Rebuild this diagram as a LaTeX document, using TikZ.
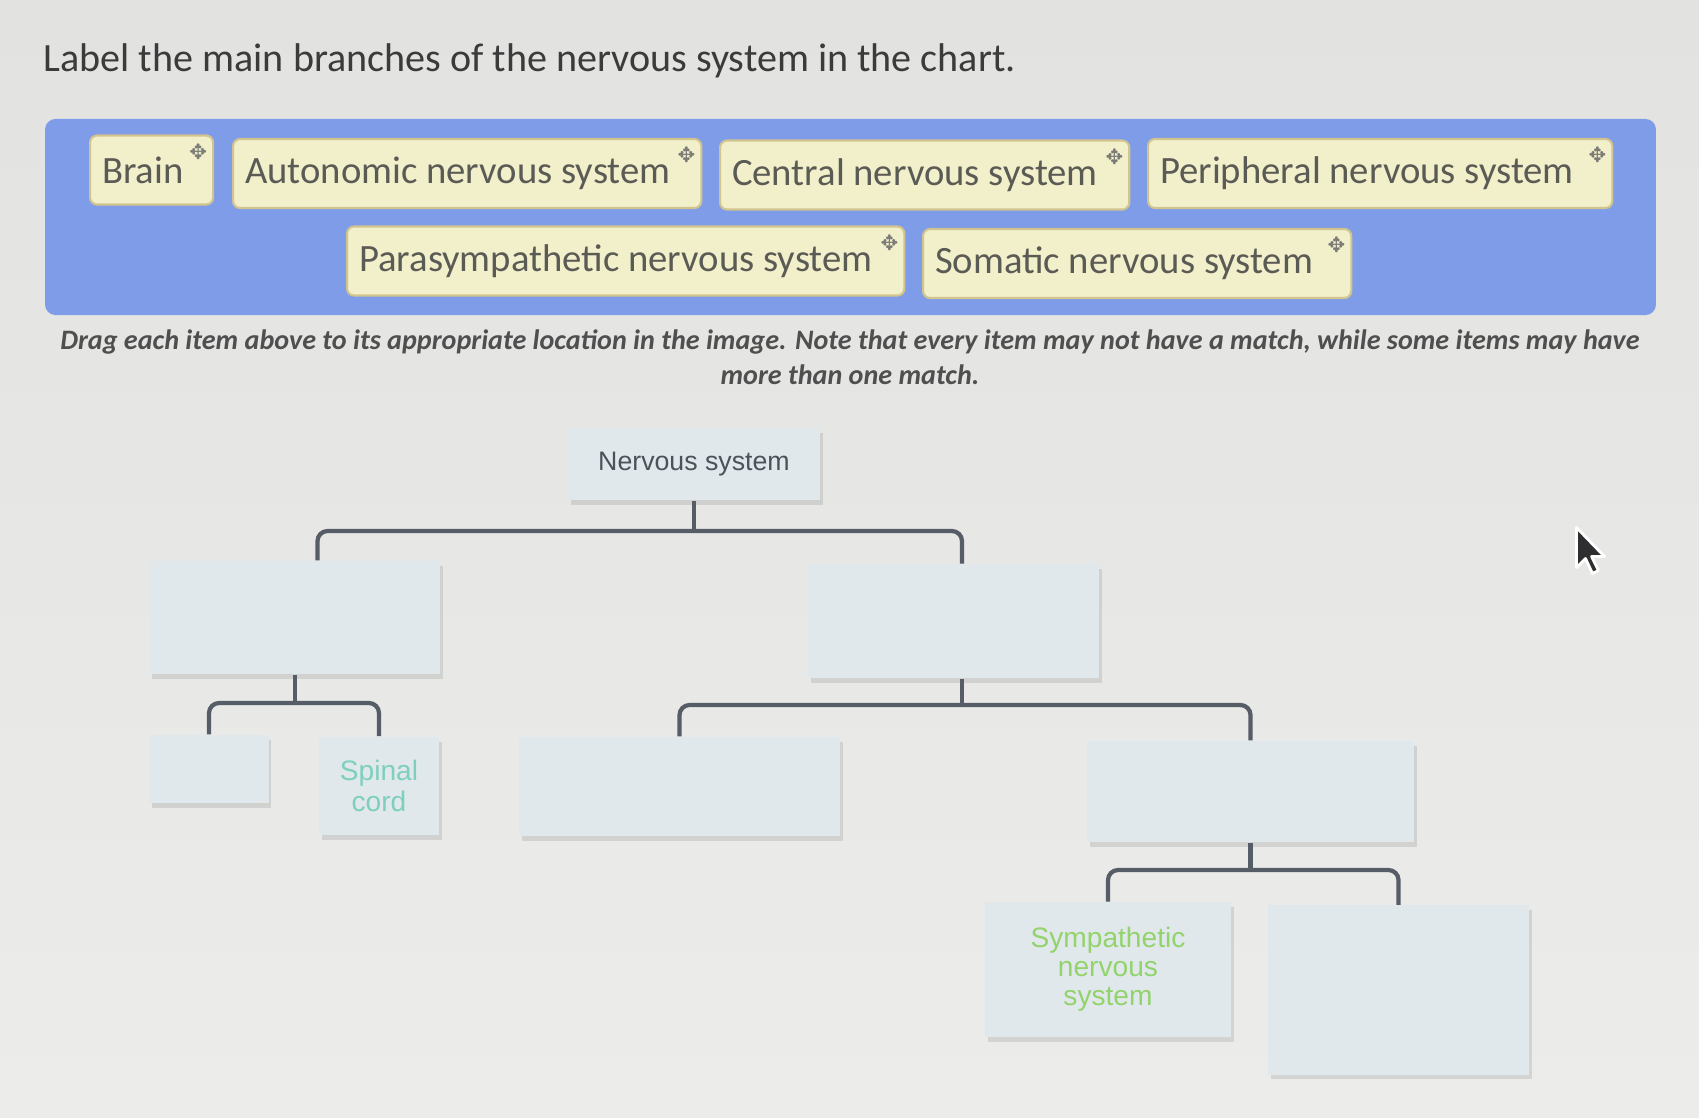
\documentclass[tikz,border=0pt]{standalone}
\usepackage{fontspec}
\setmainfont{Carlito}
\newfontfamily\chartfont{Liberation Sans}
\newfontfamily\iconfont{DejaVu Sans}
\usetikzlibrary{positioning,calc,shadows}

\definecolor{pagetop}{HTML}{E2E2E1}
\definecolor{pagebot}{HTML}{ECECEA}
\definecolor{panelblue}{HTML}{7E9CE8}
\definecolor{chipfill}{HTML}{F2EFCB}
\definecolor{chipline}{HTML}{D2C48F}
\definecolor{chiptext}{HTML}{5B5B55}
\definecolor{boxfill}{HTML}{E1E8EC}
\definecolor{linkgray}{HTML}{575D66}
\definecolor{titletext}{HTML}{3B3B3B}
\definecolor{hinttext}{HTML}{4F4F4F}
\definecolor{nstext}{HTML}{4A525A}
\definecolor{teallabel}{HTML}{7DCFBE}
\definecolor{greenlabel}{HTML}{92D36C}
\definecolor{cursorgray}{HTML}{2E2E30}

\begin{document}
\begin{tikzpicture}[
    x=0.01cm,
    y=-0.01cm,
    title/.style={anchor=base west, inner sep=0pt, font=\fontsize{11.4}{13}\selectfont, text=titletext},
    hint/.style={anchor=north, inner sep=0pt, align=center, font=\bfseries\itshape\fontsize{8}{10}\selectfont, text=hinttext},
    panel/.style={fill=panelblue, rounded corners=3pt, minimum width=16.10cm, minimum height=1.96cm, inner sep=0pt},
    chip/.style={draw=chipline, fill=chipfill, rounded corners=2pt, line width=0.6pt, anchor=west, align=flush left, text width=#1, inner xsep=0.12cm, minimum height=0.69cm, font=\fontsize{11}{13}\selectfont, text=chiptext},
    moveicon/.style={inner sep=0pt, font=\iconfont\fontsize{6}{6}\selectfont, text=chiptext!80},
    chartbox/.style={fill=boxfill, inner sep=0pt, align=center, drop shadow={shadow xshift=0.8pt, shadow yshift=-1.4pt, opacity=0.22}},
    link/.style={draw=linkgray, line width=1.2pt, rounded corners=0.1cm}
  ]
    % -- page --
    \shade[top color=pagetop, bottom color=pagebot] (0,0) rectangle (1699,1117);
    \useasboundingbox (0,0) rectangle (1699,1117);

    % -- question and word bank --
    \node[title] (title) at (43,71.5) {Label the main branches of the nervous system in the chart.};
    \node[panel] (bank) at (850.5,217) {};

    \node[chip=0.99cm] (cBrain) at (89,170)   {Brain};
    \node[chip=4.44cm] (cAuto)  at (232,173.5) {Autonomic nervous system};
    \node[chip=3.85cm] (cCns)   at (719,175)   {Central nervous system};
    \node[chip=4.40cm] (cPns)   at (1147,173.5) {Peripheral nervous system};
    \node[chip=5.33cm] (cPara)  at (346,261)   {Parasympathetic nervous system};
    \node[chip=4.04cm] (cSoma)  at (922,263.5) {Somatic nervous system};

    \foreach \c in {cBrain,cAuto,cCns,cPns,cPara,cSoma}
      \node[moveicon] at ($(\c.north east)+(-16,17)$) {✥};

    \node[hint] (hint) at (850,329) {Drag each item above to its appropriate location in the image. Note that every item may not have a match, while some items may have\\more than one match.};

    % -- chart boxes --
    \node[chartbox, minimum width=2.52cm, minimum height=0.72cm, font=\chartfont\fontsize{7.6}{9}\selectfont, text=nstext] (ns) at (694,464) {Nervous system};
    \node[chartbox, minimum width=2.905cm, minimum height=1.13cm]  (cns) at (294.75,617.5) {};
    \node[chartbox, minimum width=2.91cm, minimum height=1.135cm]  (pns) at (953.5,621) {};
    \node[chartbox, minimum width=1.19cm, minimum height=0.68cm]   (brain) at (209,769) {};
    \node[chartbox, minimum width=1.205cm, minimum height=0.985cm, font=\chartfont\fontsize{8}{8.9}\selectfont, text=teallabel] (spinal) at (379,786) {Spinal\\cord};
    \node[chartbox, minimum width=3.21cm, minimum height=0.99cm]   (somatic) at (679.5,786.5) {};
    \node[chartbox, minimum width=3.27cm, minimum height=1.01cm]   (auto) at (1250.5,791.5) {};
    \node[chartbox, minimum width=2.46cm, minimum height=1.345cm, font=\chartfont\fontsize{8}{8.3}\selectfont, text=greenlabel] (symp) at (1108,969.5) {Sympathetic\\nervous\\system};
    \node[chartbox, minimum width=2.61cm, minimum height=1.69cm]   (para) at (1398.5,990) {};

    % -- branch lines --
    \coordinate (j0l) at (317.5,531);
    \coordinate (j0r) at (962,531);
    \draw[link] (ns.south) -- (ns.south |- j0l);
    \draw[link] (cns.north -| j0l) -- (j0l) -- (j0r) -- (pns.north -| j0r);

    \coordinate (j1) at (294.75,703);
    \draw[link] (cns.south) -- (j1);
    \draw[link] (brain.north) -- (brain.north |- j1) -- (spinal.north |- j1) -- (spinal.north);

    \coordinate (j2) at (962,705);
    \draw[link] (pns.south -| j2) -- (j2);
    \draw[link] (somatic.north) -- (somatic.north |- j2) -- (auto.north |- j2) -- (auto.north);

    \coordinate (j3) at (1250.5,870);
    \draw[link] (auto.south) -- (j3);
    \draw[link] (symp.north) -- (symp.north |- j3) -- (para.north |- j3) -- (para.north);

    % -- mouse pointer --
    \filldraw[fill=cursorgray, draw=white, line width=0.8pt, line join=round, shift={(1576.5,527.5)}]
      (0,0) -- (0,40) -- (9,31) -- (16,46) -- (22,43) -- (15,29) -- (28,29) -- cycle;
\end{tikzpicture}
\end{document}
